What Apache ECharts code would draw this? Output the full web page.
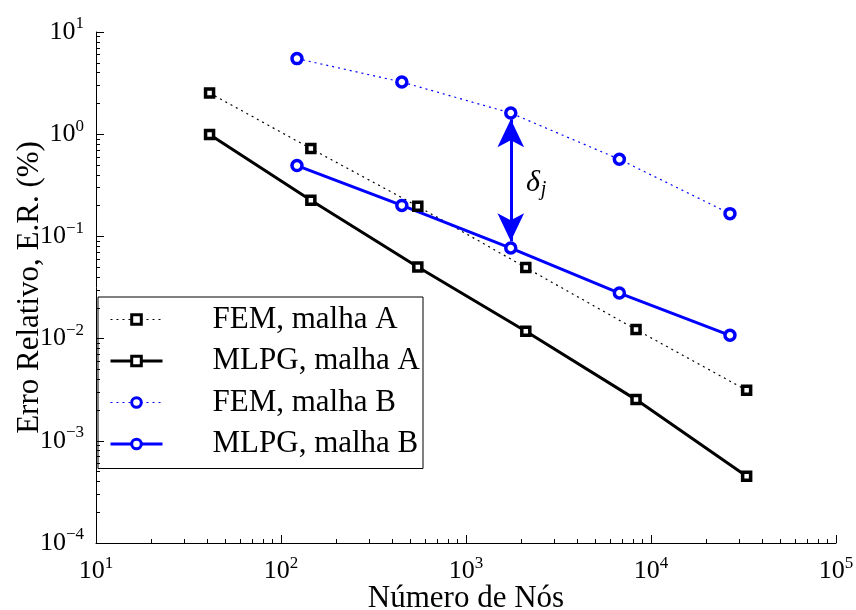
<!DOCTYPE html>
<html><head><meta charset="utf-8">
<script src="https://cdn.jsdelivr.net/npm/echarts@6/dist/echarts.min.js"></script>
<style>html,body{margin:0;padding:0;background:#fff}#c{width:856px;height:610px}</style>
</head><body><div id="c"></div>
<script>
// ---- data ----
const nodesA = [41.1, 145, 549, 2105, 8300, 32880];
const femA   = [2.53, 0.723, 0.197, 0.0495, 0.01225, 0.00312];
const mlpgA  = [0.991, 0.2255, 0.0502, 0.01178, 0.00253, 0.00045];
const nodesB = [122, 450, 1746, 6745, 26720];
const femB   = [5.49, 3.24, 1.61, 0.568, 0.167];
const mlpgB  = [0.493, 0.201, 0.0769, 0.0279, 0.01077];
const seriesNames = ['FEM, malha A', 'MLPG, malha A', 'FEM, malha B', 'MLPG, malha B'];
const xMinor = [20,30,40,50,60,70,80,90,200,300,400,500,600,700,800,900,2000,3000,4000,5000,6000,7000,8000,9000,20000,30000,40000,50000,60000,70000,80000,90000];
const yMinor = [0.0002,0.0003,0.0004,0.0005,0.0006,0.0007,0.0008,0.0009,0.002,0.003,0.004,0.005,0.006,0.007,0.008,0.009,0.02,0.03,0.04,0.05,0.06,0.07,0.08,0.09,0.2,0.3,0.4,0.5,0.6,0.7,0.8,0.9,2,3,4,5,6,7,8,9];
// annotation (delta_j arrow and label)
const arrowX = 1746, arrowTop = 1.40, arrowBottom = 0.0895;
const deltaLabelPos = [2394, 0.331];

const FONT = '"Liberation Serif", "DejaVu Serif", serif';
const BLUE = '#0000ff';
const pair = (xs, ys) => xs.map((x, i) => [x, ys[i]]);
const supFmt = v => {
  const e = Math.round(Math.log10(v));
  return '{b|10}{s|' + (e < 0 ? '\u2212' + (-e) : e) + '}';
};
const richLbl = {
  b: {fontFamily: FONT, fontSize: 26, color: '#000'},
  s: {fontFamily: FONT, fontSize: 17, color: '#000', padding: [0, 0, 16, 0]}
};
const legendColors = ['#000', '#000', BLUE, BLUE];
const legendSolid = [false, true, false, true];

const chart = echarts.init(document.getElementById('c'), null, {renderer: 'canvas'});
chart.setOption({
  animation: false,
  backgroundColor: '#fff',
  grid: {left: 96, right: 20, top: 32, bottom: 67, containLabel: false, outerBoundsMode: 'none'},
  legend: {
    orient: 'vertical', left: 98, top: 297,
    padding: [7, 3, 9, 11],
    borderColor: '#000', borderWidth: 1,
    itemWidth: 52, itemHeight: 12, itemGap: 10.5,
    data: seriesNames.map((n, i) => ({
      name: n,
      itemStyle: {color: '#fff', borderColor: legendColors[i], borderWidth: 3},
      lineStyle: legendSolid[i] ? {color: legendColors[i], width: 3, type: 'solid'}
                                : {color: legendColors[i], width: 1.2, type: [2, 4]}
    })),
    textStyle: {fontFamily: FONT, fontSize: 31, color: '#000', lineHeight: 31,
                padding: [0, 0, 0, 45]}
  },
  xAxis: [{
    type: 'log', logBase: 10, min: 10, max: 100000, interval: 1,
    name: 'Número de Nós', nameLocation: 'middle', nameGap: 40, nameMoveOverlap: false,
    nameTextStyle: {fontFamily: FONT, fontSize: 31, color: '#000'},
    axisLine: {lineStyle: {color: '#000', width: 1}},
    axisTick: {inside: true, length: 8, lineStyle: {color: '#000'}},
    axisLabel: {formatter: supFmt, rich: richLbl, margin: 12},
    splitLine: {show: false}
  }, {
    type: 'log', logBase: 10, min: 10, max: 100000, position: 'bottom',
    axisLine: {show: false}, axisLabel: {show: false}, splitLine: {show: false},
    axisTick: {inside: true, length: 4, customValues: xMinor, lineStyle: {color: '#000'}}
  }],
  yAxis: [{
    type: 'log', logBase: 10, min: 0.0001, max: 10, interval: 1,
    name: 'Erro Relativo, E.R. (%)', nameLocation: 'middle', nameGap: 51, nameMoveOverlap: false,
    nameTextStyle: {fontFamily: FONT, fontSize: 31, color: '#000'},
    axisLine: {lineStyle: {color: '#000', width: 1}},
    axisTick: {inside: true, length: 8, lineStyle: {color: '#000'}},
    axisLabel: {formatter: supFmt, rich: richLbl, margin: 12},
    splitLine: {show: false}
  }, {
    type: 'log', logBase: 10, min: 0.0001, max: 10, position: 'left',
    axisLine: {show: false}, axisLabel: {show: false}, splitLine: {show: false},
    axisTick: {inside: true, length: 4, customValues: yMinor, lineStyle: {color: '#000'}}
  }],
  series: [{
    name: seriesNames[0], type: 'line', data: pair(nodesA, femA),
    symbol: 'rect', symbolSize: 8, color: '#000',
    lineStyle: {color: '#000', width: 1.2, type: [2, 4]},
    itemStyle: {color: '#fff', borderColor: '#000', borderWidth: 3.5}
  }, {
    name: seriesNames[1], type: 'line', data: pair(nodesA, mlpgA),
    symbol: 'rect', symbolSize: 8, color: '#000',
    lineStyle: {color: '#000', width: 3},
    itemStyle: {color: '#fff', borderColor: '#000', borderWidth: 3.5}
  }, {
    name: seriesNames[2], type: 'line', data: pair(nodesB, femB),
    symbol: 'circle', symbolSize: 10, color: BLUE,
    lineStyle: {color: BLUE, width: 1.2, type: [2, 4]},
    itemStyle: {color: '#fff', borderColor: BLUE, borderWidth: 3.5},
    markLine: {
      silent: true, symbol: ['arrow', 'arrow'], symbolSize: [20, 28],
      lineStyle: {color: BLUE, width: 3, type: 'solid'},
      label: {show: false},
      data: [[{coord: [arrowX, arrowTop]}, {coord: [arrowX, arrowBottom]}]]
    },
    markPoint: {
      silent: true, symbol: 'circle', symbolSize: 1,
      itemStyle: {color: 'rgba(0,0,0,0)', borderWidth: 0},
      label: {show: true, position: 'inside', formatter: '{d|\u03b4}{j|j}',
        rich: {d: {fontFamily: FONT, fontStyle: 'italic', fontSize: 30, color: '#000'},
               j: {fontFamily: FONT, fontStyle: 'italic', fontSize: 20, color: '#000', padding: [12, 0, 0, 1]}}},
      data: [{coord: deltaLabelPos}]
    }
  }, {
    name: seriesNames[3], type: 'line', data: pair(nodesB, mlpgB),
    symbol: 'circle', symbolSize: 10, color: BLUE,
    lineStyle: {color: BLUE, width: 3},
    itemStyle: {color: '#fff', borderColor: BLUE, borderWidth: 3.5}
  }]
});
</script></body></html>
